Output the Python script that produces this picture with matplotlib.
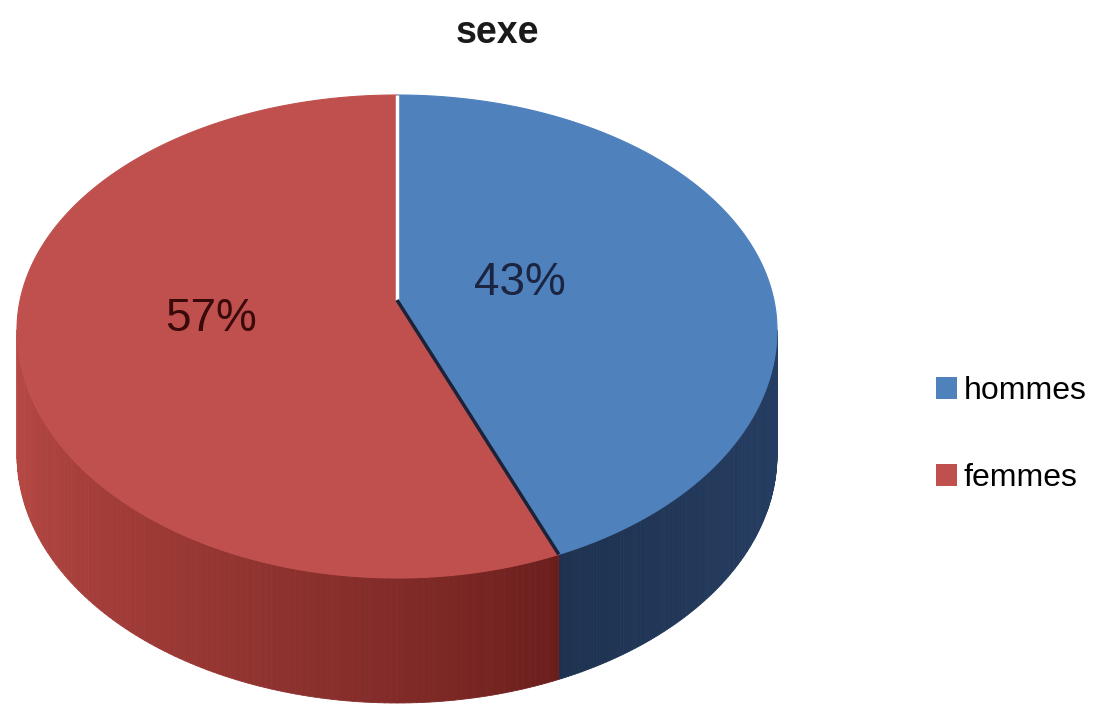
import numpy as np
import matplotlib.pyplot as plt
from matplotlib.patches import Polygon, Patch
from matplotlib.collections import PolyCollection
from matplotlib.colors import to_rgb

labels = ['hommes', 'femmes']
values = [43, 57]
top_colors = ['#4F81BD', '#C0504D']
wall_light = ['#2A4670', '#BA4A45']
wall_dark = ['#1E3250', '#6A1E1C']
pct_colors = ['#1B2440', '#3A0A0A']

plt.rcParams['font.family'] = ['Liberation Sans', 'DejaVu Sans']

fig = plt.figure(figsize=(10.93, 7.15), dpi=100)
ax = fig.add_axes([0, 0, 1, 1])
ax.set_xlim(0, 1093)
ax.set_ylim(715, 0)
ax.axis('off')

# pie geometry in pixels
cx, cy = 397, 330
a, b_top, b_bot = 380, 235, 248
apex = (397, 300)
depth = 125


def rim(theta):
    t = np.radians(theta)
    b = np.where(np.cos(t) > 0, b_top, b_bot)
    return cx + a * np.sin(t), cy - b * np.cos(t)


fracs = np.array(values) / sum(values)
edges = np.concatenate([[0], np.cumsum(fracs) * 360])

# side walls (only the front half is visible)
for i in range(len(values)):
    lo, hi = max(edges[i], 90), min(edges[i + 1], 270)
    if hi <= lo:
        continue
    th = np.linspace(lo, hi, 120)
    xs, ys = rim(th)
    quads, cols = [], []
    c1, c2 = np.array(to_rgb(wall_light[i])), np.array(to_rgb(wall_dark[i]))
    for k in range(len(th) - 1):
        quads.append([(xs[k], ys[k]), (xs[k + 1], ys[k + 1]),
                      (xs[k + 1], ys[k + 1] + depth), (xs[k], ys[k] + depth)])
        # darker toward the front divider
        f = np.clip(abs(th[k] - edges[1]) / 115.0, 0, 1) ** 0.8
        cols.append(c2 * (1 - f) + c1 * f)
    ax.add_collection(PolyCollection(quads, facecolors=cols, edgecolors=cols, linewidths=0.6))

# top faces
for i in range(len(values)):
    th = np.linspace(edges[i], edges[i + 1], 200)
    xs, ys = rim(th)
    pts = [apex] + list(zip(xs, ys))
    ax.add_patch(Polygon(pts, closed=True, facecolor=top_colors[i], edgecolor=top_colors[i], lw=0.8))

# slice borders
x0, y0 = rim(np.array(edges[0]))
ax.plot([apex[0], x0], [apex[1], y0], color='white', lw=2.5, solid_capstyle='butt')
x1, y1 = rim(np.array(edges[1]))
ax.plot([apex[0], x1], [apex[1], y1], color='#1C2238', lw=2.5, solid_capstyle='butt')

# percentage labels
pct_pos = [(520, 283), (211, 319)]
for i in range(len(values)):
    ax.text(pct_pos[i][0], pct_pos[i][1], f'{values[i]}%', fontsize=33,
            color=pct_colors[i], ha='center', va='center')

ax.text(497, 33, 'sexe', fontsize=27, fontweight='bold', color='#1A1A1A',
        ha='center', va='center')

handles = [Patch(facecolor=top_colors[i], edgecolor='none', label=labels[i]) for i in range(len(values))]
fig.legend(handles=handles, loc='center left', bbox_to_anchor=(0.856, 0.392),
           frameon=False, fontsize=23, handlelength=0.68, handleheight=0.68,
           handletextpad=0.2, labelspacing=1.8, borderpad=0, borderaxespad=0)

fig.savefig('out.png', dpi=100)
